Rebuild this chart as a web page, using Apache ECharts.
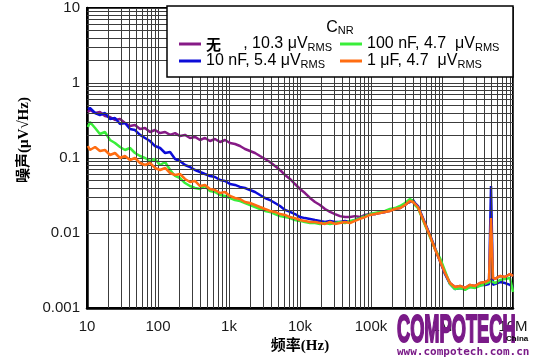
<!DOCTYPE html>
<html>
<head>
<meta charset="utf-8">
<script src="https://cdn.jsdelivr.net/npm/echarts@6/dist/echarts.min.js"></script>
<style>
html,body{margin:0;padding:0;background:#fff;}
#chart{width:537px;height:359px;}
</style>
</head>
<body>
<div id="chart"></div>
<script>
// Frequencies (Hz) shared by all series
const freq = [
  10.3, 11, 13, 15.2, 17.9, 21.1, 24.8, 29.2, 34.3, 40.3,
  47.4, 55.8, 65.6, 77.2, 90.7, 107, 126, 148, 174, 204,
  240, 282, 332, 391, 459, 540, 635, 747, 879, 1033,
  1215, 1429, 1680, 1976, 2324, 2733, 3214, 3780, 4445, 5228,
  6148, 7231, 8503, 10000, 11760, 13830, 16270, 19130, 22500, 26460,
  31120, 36600, 43040, 50620, 59530, 70010, 82340, 96810, 113900, 133900,
  157500, 185200, 217800, 256200, 301300, 354300, 390500, 416700, 459200, 490000,
  576300, 677700, 797000, 937300, 1102000, 1296000, 1525000, 1793000, 2109000, 2480000,
  2917000, 3430000, 4034000, 4592000, 4900000, 5228000, 5579000, 6561000, 7716000, 9075000,
  10000000
];
// Noise density (uV/rtHz), CNR = none
const noiseNone = [
  0.410, 0.437, 0.398, 0.410, 0.363, 0.352, 0.321, 0.331, 0.293, 0.267,
  0.275, 0.244, 0.251, 0.222, 0.236, 0.215, 0.222, 0.203, 0.215, 0.196,
  0.203, 0.185, 0.191, 0.1738, 0.185, 0.1685, 0.179, 0.1634, 0.1738, 0.1585,
  0.1537, 0.1445, 0.1318, 0.1240, 0.1166, 0.1063, 0.097, 0.0884, 0.0782, 0.0692,
  0.0594, 0.0525, 0.045, 0.0386, 0.0341, 0.0293, 0.0259, 0.0236, 0.0209, 0.0191,
  0.0179, 0.0168, 0.0163, 0.0163, 0.0168, 0.0163, 0.0174, 0.0179, 0.0179, 0.0185,
  0.0191, 0.0197, 0.0209, 0.0215, 0.0236, 0.0267, 0.0259, 0.0244, 0.0222, 0.0191,
  0.0132, 0.0091, 0.00612, 0.00423, 0.00293, 0.00215, 0.00191, 0.00197, 0.00185, 0.00203,
  0.00197, 0.00215, 0.00222, 0.00236, 0.00236, 0.00251, 0.00244, 0.00267, 0.00259, 0.00284,
  0.00267
];
// CNR = 10 nF
const noise10n = [
  0.450, 0.464, 0.398, 0.374, 0.398, 0.331, 0.341, 0.284, 0.293, 0.244,
  0.236, 0.203, 0.185, 0.1685, 0.1445, 0.1359, 0.1166, 0.1202, 0.097, 0.0912,
  0.0807, 0.0759, 0.0692, 0.0651, 0.0612, 0.0576, 0.0558, 0.0509, 0.0494, 0.045,
  0.0437, 0.0411, 0.0398, 0.0374, 0.0352, 0.0321, 0.0293, 0.0275, 0.0251, 0.0229,
  0.0203, 0.0191, 0.0179, 0.0163, 0.0158, 0.0154, 0.0149, 0.0145, 0.0140, 0.0145,
  0.0140, 0.0140, 0.0145, 0.0140, 0.0149, 0.0158, 0.0168, 0.0179, 0.0179, 0.0191,
  0.0191, 0.0203, 0.0209, 0.0222, 0.0244, 0.0259, 0.0275, 0.0251, 0.0229, 0.0197,
  0.0136, 0.0094, 0.00631, 0.00423, 0.00284, 0.00209, 0.00179, 0.00185, 0.00179, 0.00191,
  0.00191, 0.00203, 0.00203, 0.00209, 0.0423, 0.00203, 0.00209, 0.00222, 0.00215, 0.00203,
  0.00191
];
// CNR = 100 nF
const noise100n = [
  0.259, 0.302, 0.251, 0.209, 0.222, 0.1738, 0.1585, 0.1402, 0.1278, 0.1359,
  0.1166, 0.1063, 0.1, 0.0912, 0.097, 0.0807, 0.0884, 0.0692, 0.0576, 0.0541,
  0.0464, 0.0423, 0.0398, 0.0386, 0.0423, 0.0363, 0.0352, 0.0321, 0.0312, 0.0293,
  0.0275, 0.0267, 0.0251, 0.0236, 0.0222, 0.0209, 0.0197, 0.0191, 0.0179, 0.0168,
  0.0163, 0.0158, 0.0149, 0.0145, 0.0140, 0.0136, 0.0136, 0.0132, 0.0136, 0.0132,
  0.0136, 0.0140, 0.0136, 0.0145, 0.0149, 0.0158, 0.0168, 0.0179, 0.0185, 0.0191,
  0.0197, 0.0209, 0.0215, 0.0229, 0.0251, 0.0284, 0.0267, 0.0236, 0.0215, 0.0185,
  0.0128, 0.00885, 0.00612, 0.00464, 0.00311, 0.00209, 0.00179, 0.00185, 0.00174, 0.00191,
  0.00185, 0.00197, 0.00209, 0.00222, 0.00229, 0.00236, 0.00215, 0.00236, 0.00244, 0.00251,
  0.00163
];
// CNR = 1 uF
const noise1u = [
  0.1445, 0.1278, 0.1402, 0.1240, 0.1278, 0.1096, 0.1166, 0.1, 0.1063, 0.094,
  0.1, 0.0858, 0.0807, 0.0858, 0.0736, 0.0692, 0.0736, 0.0631, 0.0594, 0.0612,
  0.0525, 0.0479, 0.0494, 0.0423, 0.0437, 0.0386, 0.0374, 0.0341, 0.0352, 0.0312,
  0.0293, 0.0284, 0.0259, 0.0251, 0.0236, 0.0222, 0.0209, 0.0197, 0.0191, 0.0179,
  0.0174, 0.0163, 0.0158, 0.0149, 0.0145, 0.0140, 0.0140, 0.0136, 0.0132, 0.0140,
  0.0132, 0.0136, 0.0140, 0.0136, 0.0145, 0.0154, 0.0163, 0.0174, 0.0179, 0.0185,
  0.0191, 0.0197, 0.0209, 0.0215, 0.0236, 0.0267, 0.0259, 0.0244, 0.0222, 0.0191,
  0.0132, 0.0091, 0.00612, 0.00423, 0.00293, 0.00215, 0.00191, 0.00197, 0.00185, 0.00203,
  0.00197, 0.00215, 0.00222, 0.00236, 0.0158, 0.00251, 0.00244, 0.00267, 0.00259, 0.00284,
  0.00267
];

const seriesNames = ['无', '10 nF', '100 nF', '1 μF'];
const rmsValues = ['10.3', '5.4', '4.7', '4.7'];
const seriesColors = ['#861a86', '#0c0cd8', '#3aee3a', '#ff6d12'];
const xTickLabels = {10: '10', 100: '100', 1000: '1k', 10000: '10k', 100000: '100k', 1000000: '1M', 10000000: '10M'};
const yTickLabels = {10: '10', 1: '1', 0.1: '0.1', 0.01: '0.01', 0.001: '0.001'};

const allData = [noiseNone, noise10n, noise100n, noise1u];

// minor grid positions (2..9 within each decade)
const minorX = [], minorY = [];
for (let e = 1; e < 7; e++) for (let k = 2; k <= 9; k++) minorX.push(k * Math.pow(10, e));
for (let e = -3; e < 1; e++) for (let k = 2; k <= 9; k++) minorY.push(+(k * Math.pow(10, e)).toPrecision(3));

const gridColor = '#3c3c3c';

const series = [{
  type: 'line', data: [], silent: true, z: 1,
  markLine: {
    silent: true, symbol: ['none', 'none'], animation: false,
    label: {show: false},
    lineStyle: {color: gridColor, width: 1, type: 'solid'},
    data: minorX.map(v => ({xAxis: v})).concat(minorY.map(v => ({yAxis: v})))
  }
}];
seriesNames.forEach((n, i) => {
  series.push({
    name: n, type: 'line', showSymbol: false, symbol: 'none', z: 2 + i,
    lineStyle: {color: seriesColors[i], width: 2.5},
    itemStyle: {color: seriesColors[i]},
    data: freq.map((f, j) => [f, allData[i][j]])
  });
});

function legendFmt(name) {
  const i = seriesNames.indexOf(name);
  if (i === 0) return '{cn|' + name + '}{t|     , ' + rmsValues[i] + ' μV}{s|RMS}';
  return '{t|' + name + ', ' + rmsValues[i] + (i >= 2 ? '  μV' : ' μV') + '}{s|RMS}';
}
const legendText = {
  color: '#000', fontFamily: 'Liberation Sans',
  rich: {
    t: {fontSize: 16, fontFamily: 'Liberation Sans', color: '#000', lineHeight: 18},
    cn: {fontSize: 15, fontFamily: 'Noto Sans CJK SC', fontWeight: 'bold', color: '#000', lineHeight: 18},
    s: {fontSize: 11, fontFamily: 'Liberation Sans', color: '#000', lineHeight: 11, verticalAlign: 'bottom'}
  }
};

const chart = echarts.init(document.getElementById('chart'), null, {renderer: 'canvas'});
chart.setOption({
  animation: false,
  backgroundColor: '#fff',
  grid: {left: 87, right: 24, top: 8, bottom: 51, show: true, borderColor: '#000', borderWidth: 2},
  xAxis: {
    type: 'log', logBase: 10, min: 10, max: 10000000, splitNumber: 6,
    axisLine: {show: true, lineStyle: {color: '#000', width: 2.5}},
    axisTick: {show: false},
    splitLine: {show: true, lineStyle: {color: gridColor, width: 1}},
    axisLabel: {
      margin: 11, color: '#1a1a1a', fontSize: 15, fontFamily: 'Liberation Sans',
      formatter: v => xTickLabels[Math.round(v)] || ''
    },
    name: '频率(Hz)', nameLocation: 'middle', nameGap: 27,
    nameTextStyle: {fontSize: 15, fontWeight: 'bold', color: '#000', fontFamily: 'Liberation Serif, Noto Sans CJK SC'}
  },
  yAxis: {
    type: 'log', logBase: 10, min: 0.001, max: 10, splitNumber: 4,
    axisLine: {show: true, lineStyle: {color: '#000', width: 2.5}},
    axisTick: {show: false},
    splitLine: {show: true, lineStyle: {color: gridColor, width: 1}},
    axisLabel: {
      margin: 7, color: '#1a1a1a', fontSize: 15, fontFamily: 'Liberation Sans',
      formatter: v => {
        for (const k in yTickLabels) if (Math.abs(Math.log10(v) - Math.log10(+k)) < 1e-6) return yTickLabels[k];
        return '';
      }
    },
    name: '噪声(μV√Hz)', nameLocation: 'middle', nameGap: 55,
    nameTextStyle: {fontSize: 15, fontWeight: 'bold', color: '#000', fontFamily: 'Liberation Serif, Noto Sans CJK SC',
      padding: [0, 0, 0, 36]}
  },
  legend: [{
    data: [seriesNames[0], seriesNames[1]], orient: 'vertical', left: 179, top: 36,
    itemWidth: 22, itemHeight: 3, itemGap: 0, icon: 'rect', padding: 0,
    formatter: legendFmt, textStyle: legendText, selectedMode: false, zlevel: 1, z: 10
  }, {
    data: [seriesNames[2], seriesNames[3]], orient: 'vertical', left: 340, top: 36,
    itemWidth: 22, itemHeight: 3, itemGap: 0, icon: 'rect', padding: 0,
    formatter: legendFmt, textStyle: legendText, selectedMode: false, zlevel: 1, z: 10
  }],
  graphic: {
    elements: [
      {type: 'rect', zlevel: 1, z: 0, shape: {x: 167, y: 6, width: 346, height: 71},
        style: {fill: '#fff', stroke: '#000', lineWidth: 1.5}},
      {type: 'text', zlevel: 1, z: 5, x: 340, y: 28,
        style: {text: '{c|C}{n|NR}', align: 'center', verticalAlign: 'middle', fill: '#000',
          rich: {c: {fontSize: 16, fontFamily: 'Liberation Sans', lineHeight: 17},
                 n: {fontSize: 11, fontFamily: 'Liberation Sans', lineHeight: 11, verticalAlign: 'bottom'}}}},
      {type: 'text', zlevel: 2, z: 20, x: 397, y: 313, scaleX: 0.48,
        style: {text: 'COMPOTECH', x: 0, y: 0, verticalAlign: 'top', fill: '#7a1a88',
          stroke: '#7a1a88', lineWidth: 2, font: 'bold 38px "Liberation Sans"'}},
      {type: 'text', zlevel: 2, z: 20, x: 506, y: 335,
        style: {text: 'China', verticalAlign: 'top', fill: '#000', font: 'bold 8px "Liberation Sans"'}},
      {type: 'text', zlevel: 2, z: 20, x: 397, y: 347,
        style: {text: 'www.compotech.com.cn', verticalAlign: 'top', fill: '#7a1a88', font: 'bold 11px "DejaVu Sans Mono"'}}
    ]
  },
  series: series
});
</script>
</body>
</html>
